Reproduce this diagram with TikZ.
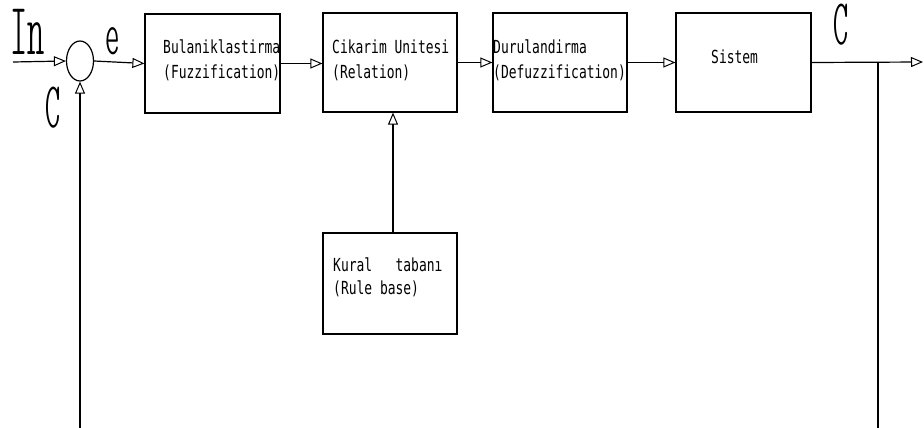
\documentclass[tikz,border=0pt]{standalone}
\usepackage{fontspec}
\usetikzlibrary{arrows.meta,shapes.geometric}
% thin monospaced faces for the drafting-style lettering
\newfontfamily\boxfont[FakeStretch=0.72]{DejaVu Sans Mono}
\newfontfamily\bigfont[FakeStretch=0.66]{lmmonoltcond10-regular.otf}
\tikzset{
  block/.style={draw, line width=1.2pt, inner sep=0pt, minimum width=134pt, minimum height=99pt},
  txt/.style={anchor=base west, inner sep=0pt, font=\boxfont\fontsize{18}{20}\selectfont},
  big/.style={anchor=base west, inner sep=0pt, text height=38pt, text depth=0pt, font=\bigfont\fontsize{74}{74}\selectfont},
  bigc/.style={big, font=\bigfont\fontsize{65}{65}\selectfont},
  bige/.style={big, text height=24pt, font=\bigfont\fontsize{62}{62}\selectfont},
  wire/.style={line width=1.2pt},
  flow/.style={wire, -{Triangle[open, length=12pt, width=10pt, line width=1pt]}},
}
\begin{document}
\begin{tikzpicture}[x=1pt, y=-1pt]
\useasboundingbox (0,0) rectangle (924,428);

% summing junction
\node[draw, ellipse, line width=1.2pt, inner sep=0pt, minimum width=27pt, minimum height=40pt] (sum) at (80,61) {};

% processing chain
\node[block, minimum width=135pt] (fuzz) at (212.5,63.5) {};
\node[block] (rel)  at (390,62.5) {};
\node[block] (defz) at (560,62.5) {};
\node[block, minimum width=135pt] (sys) at (743.5,62.5) {};
\node[block, minimum height=101pt] (rule) at (390,283.5) {};

% block captions
\node[txt] (t1a) at (163,54) {Bulaniklastirma};
\node[txt] (t1b) at (163,79) {(Fuzzification)};
\node[txt] (t2a) at (332,54) {Cikarim Unitesi};
\node[txt] (t2b) at (332,79) {(Relation)};
\node[txt] (t3a) at (493,54) {Durulandirma};
\node[txt] (t3b) at (493,79) {(Defuzzification)};
\node[txt] (t4)  at (711,64) {Sistem};
\node[txt] (t5a) at (333,271) {Kural\ \ \ tabanı};
\node[txt] (t5b) at (333,294) {(Rule base)};

% signal names
\node[big]  (lin)  at (10,55) {In};
\node[bige] (le)   at (105,55) {e};
\node[bigc] (lc)   at (45,128) {C};
\node[bigc] (lout) at (833,45) {C};

% free ends of the wires
\coordinate (src)  at (13,62);
\coordinate (dst)  at (923,62);
\coordinate (tap)  at (878,62);
\coordinate (fbR)  at (878,428);
\coordinate (fbL)  at (80,428);

% connectors
\draw[flow] (src) -- (sum.west);
\draw[flow] (sum.east) -- (fuzz.west);
\draw[flow] (fuzz.east) -- (fuzz.east -| rel.west);
\draw[flow] (rel.east) -- (defz.west);
\draw[flow] (defz.east) -- (sys.west);
\draw[flow] (sys.east) -- (dst);
\draw[flow] ([xshift=3pt]rule.north) -- ([xshift=3pt]rel.south);
\draw[wire] (tap) -- (fbR);
\draw[flow] (fbL) -- (sum.south);
\end{tikzpicture}
\end{document}
